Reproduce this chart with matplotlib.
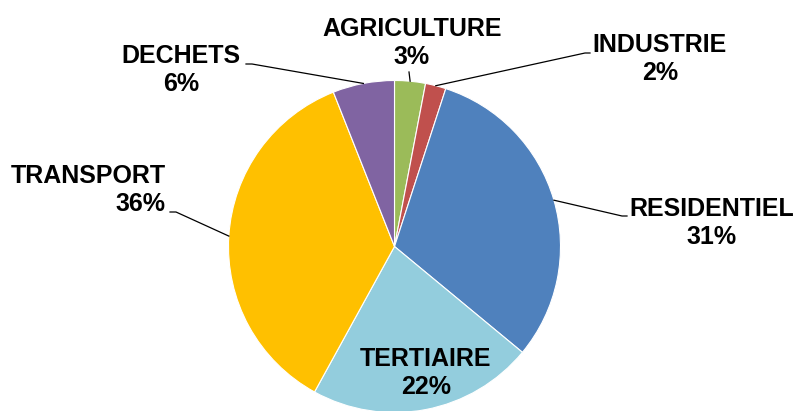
import numpy as np
import matplotlib
matplotlib.use('Agg')
import matplotlib.pyplot as plt

# data
sectors = ['AGRICULTURE', 'INDUSTRIE', 'RESIDENTIEL', 'TERTIAIRE', 'TRANSPORT', 'DECHETS']
shares = [3, 2, 31, 22, 36, 6]
colors = ['#9BBB59', '#C0504D', '#4F81BD', '#93CDDD', '#FFC000', '#8064A2']

W, H = 799, 411

# label layout in pixels (y down): text centre, and the elbow points of the leader line
label_pos = {
    'AGRICULTURE': (412, 43),
    'INDUSTRIE': (660, 59),
    'RESIDENTIEL': (712, 223),
    'TERTIAIRE': (426, 373),
    'TRANSPORT': (88, 190),
    'DECHETS': (181, 70),
}
leader = {
    'AGRICULTURE': [(409, 72)],
    'INDUSTRIE': [(585, 53), (590, 53)],
    'RESIDENTIEL': [(622, 216), (627, 216)],
    'TRANSPORT': [(176, 212), (170, 212)],
    'DECHETS': [(252, 64), (246, 64)],
}

fig = plt.figure(figsize=(W / 100, H / 100), dpi=100)
ax = fig.add_axes([0, 0, 1, 1])
ax.axis('off')

cx, cy, r = 394.5, 246.5, 166
wedges, _ = ax.pie(shares, colors=colors, startangle=90, counterclock=False,
                   center=(cx, H - cy), radius=r,
                   wedgeprops=dict(edgecolor='white', linewidth=0.8))
ax.set_xlim(0, W)
ax.set_ylim(0, H)
ax.set_aspect('equal')

for name, share, w in zip(sectors, shares, wedges):
    tx, ty = label_pos[name]
    align = 'right' if name == 'TRANSPORT' else 'center'
    ax.text(tx, H - ty, f'{name}\n{share}%', ha='center', va='center',
            multialignment=align,
            fontsize=18, fontweight='bold', family='Liberation Sans',
            linespacing=1.2, color='black')
    if name in leader:
        mid = np.deg2rad((w.theta1 + w.theta2) / 2)
        ax_x = cx + r * np.cos(mid)
        ax_y = (H - cy) + r * np.sin(mid)
        xs = [ax_x] + [p[0] for p in leader[name]]
        ys = [ax_y] + [H - p[1] for p in leader[name]]
        ax.plot(xs, ys, color='black', lw=0.9)

fig.savefig('out.png', dpi=100)
